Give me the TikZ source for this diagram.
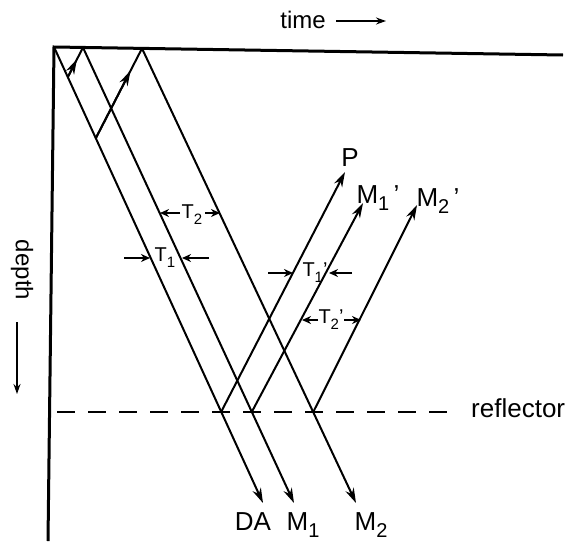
\documentclass[tikz,border=0pt]{standalone}
\usepackage{fontspec}
\setmainfont{Liberation Sans}
\usetikzlibrary{arrows.meta,calc,positioning}

\newcommand{\lowidx}[1]{\raisebox{-0.28em}{\fontsize{20}{20}\selectfont #1}}
\newcommand{\tidx}[1]{\raisebox{-0.3em}{\fontsize{15}{16}\selectfont #1}}

\begin{document}
\begin{tikzpicture}[x=1pt,y=-1pt,
  axis/.style={line width=3pt,black,line join=miter},
  ray/.style={line width=2pt,black},
  rayarrow/.style={ray,-{Stealth[length=15pt,width=9pt]}},
  dimarrow/.style={line width=2pt,-{Stealth[length=9pt,width=8pt]}},
  axisarrow/.style={line width=1.8pt,-{Stealth[length=10pt,width=7pt]}},
  wavelabel/.style={font=\fontsize{26}{30}\selectfont,inner sep=0pt,anchor=base},
  axislabel/.style={font=\fontsize{24}{28}\selectfont,inner sep=0pt},
  tlabel/.style={font=\fontsize{20}{22}\selectfont,inner sep=0pt},
  reflectorline/.style={line width=2.6pt,dash pattern=on 18pt off 13pt}
]
\useasboundingbox (0,0) rectangle (572,541);

% ===== AXES =====
\coordinate (origin) at (54,47);
\coordinate (timeend) at (563,55);
\coordinate (depthend) at (48,541);
\draw[axis] (timeend) -- (origin) -- (depthend);

\node[axislabel] (timelabel) at (303,20) {time};
\coordinate (timeA) at (336,21);
\coordinate (timeB) at (386,21);
\draw[axisarrow] (timeA) -- (timeB);

\node[axislabel,rotate=-90] (depthlabel) at (22,270) {depth};
\coordinate (depthA) at (17,322);
\coordinate (depthB) at (17,394);
\draw[axisarrow] (depthA) -- (depthB);

% ===== REFLECTOR =====
\coordinate (reflA) at (57,412);
\coordinate (reflB) at (448,412);
\draw[reflectorline] (reflA) -- (reflB);
\node[axislabel,font=\fontsize{26}{30}\selectfont,anchor=west] (refllabel) at (471,408) {reflector};

% ===== DOWNGOING RAYS =====
\coordinate (sA) at (83,47.5);
\coordinate (sB) at (142,48.4);
\coordinate (tipDA) at (263,503);
\coordinate (tipMa) at (294,503);
\coordinate (tipMb) at (356,503);

\foreach \s/\t/\r in {origin/tipDA/rDA, sA/tipMa/rMa, sB/tipMb/rMb} {
  \draw[rayarrow] (\s) -- (\t);
  \coordinate (\r) at ($(\s)!0.8!(\t)$);
}

% short surface multiples
\coordinate (bA) at ($(origin)!0.066!(tipDA)$);
\coordinate (bB) at ($(origin)!0.2!(tipDA)$);
\draw[ray] (bA) -- (sA);
\draw[rayarrow] (bA) -- ($(bA)!0.6!(sA)$);
\draw[ray] (bB) -- (sB);
\draw[rayarrow] (bB) -- ($(bB)!0.75!(sB)$);

% ===== UPGOING RAYS =====
\coordinate (tipP) at (345,172);
\coordinate (tipMaU) at (363,203);
\coordinate (tipMbU) at (417,205);
\foreach \s/\t in {rDA/tipP, rMa/tipMaU, rMb/tipMbU} {
  \draw[rayarrow] (\s) -- (\t);
}

% ===== LABELS =====
\node[wavelabel] (P) at (350,166) {P};
\node[wavelabel] (MaU) at (378,203) {M\lowidx{1}\,'};
\node[wavelabel] (MbU) at (438,206) {M\lowidx{2}\,'};

\node[wavelabel] (DA) at (253,530) {DA};
\node[wavelabel] (Ma) at (303,530) {M\lowidx{1}};
\node[wavelabel] (Mb) at (371,530) {M\lowidx{2}};

% ===== PERIODS =====
\node[tlabel] (T1) at (165,258) {T\tidx{1}};
\coordinate (T1a) at (124,258); \coordinate (T1b) at (150,258);
\coordinate (T1c) at (209,258); \coordinate (T1d) at (182,258);
\draw[dimarrow] (T1a) -- (T1b);
\draw[dimarrow] (T1c) -- (T1d);

\node[tlabel] (T2) at (192,215) {T\tidx{2}};
\coordinate (T2a) at (180,213); \coordinate (T2b) at (160,213);
\coordinate (T2c) at (205,213); \coordinate (T2d) at (220,213);
\draw[dimarrow] (T2a) -- (T2b);
\draw[dimarrow] (T2c) -- (T2d);

\node[tlabel] (T1p) at (315,273) {T\tidx{1}'};
\coordinate (T1pa) at (268,273); \coordinate (T1pb) at (293,273);
\coordinate (T1pc) at (352,273); \coordinate (T1pd) at (329,273);
\draw[dimarrow] (T1pa) -- (T1pb);
\draw[dimarrow] (T1pc) -- (T1pd);

\node[tlabel] (T2p) at (331,320) {T\tidx{2}'};
\coordinate (T2pa) at (318,320); \coordinate (T2pb) at (302,320);
\coordinate (T2pc) at (344,320); \coordinate (T2pd) at (361,320);
\draw[dimarrow] (T2pa) -- (T2pb);
\draw[dimarrow] (T2pc) -- (T2pd);

\end{tikzpicture}
\end{document}
